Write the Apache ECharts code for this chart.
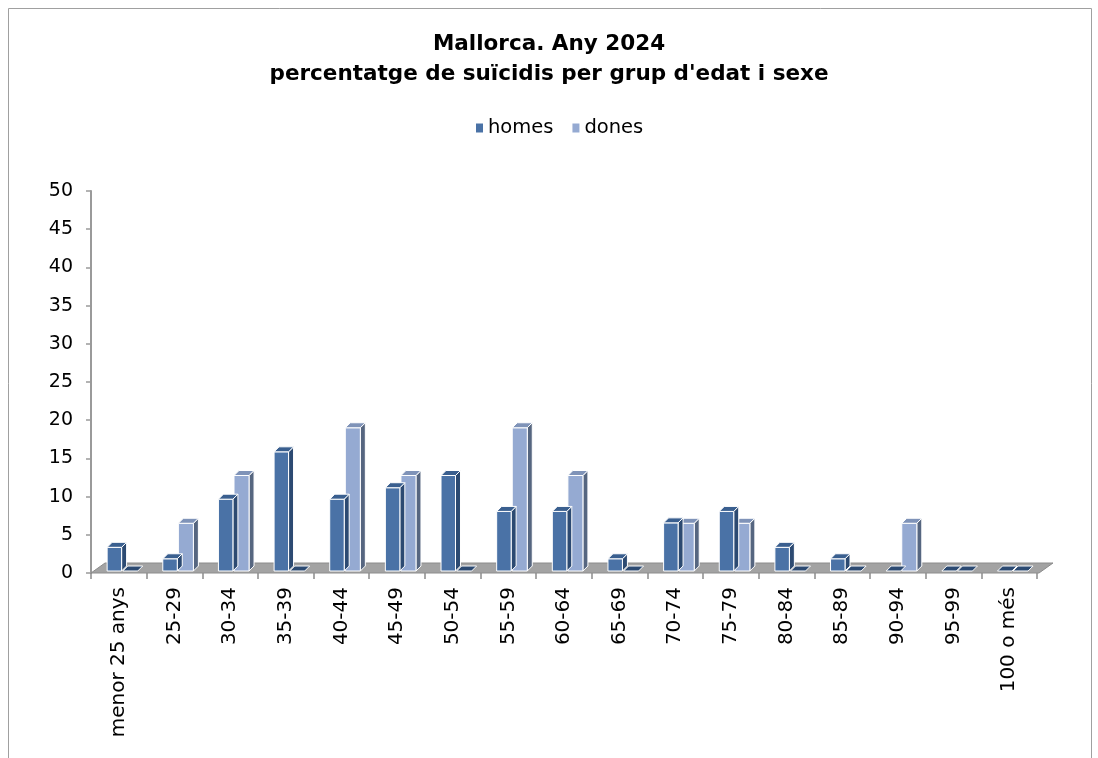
<!DOCTYPE html>
<html>
<head>
<meta charset="utf-8">
<script src="https://cdn.jsdelivr.net/npm/echarts@6/dist/echarts.min.js"></script>
<style>html,body{margin:0;padding:0;background:#fff;}#c{width:1098px;height:758px;}</style>
</head>
<body>
<div id="c"></div>
<script>
var categories = ['menor 25 anys','25-29','30-34','35-39','40-44','45-49','50-54','55-59','60-64','65-69','70-74','75-79','80-84','85-89','90-94','95-99','100 o més'];
var homes = [3.1, 1.6, 9.4, 15.6, 9.4, 10.9, 12.5, 7.8, 7.8, 1.6, 6.3, 7.8, 3.1, 1.6, 0, 0, 0];
var dones = [0, 6.25, 12.5, 0, 18.75, 12.5, 0, 18.75, 12.5, 0, 6.25, 6.25, 0, 0, 6.25, 0, 0];
var yTicks = [0, 5, 10, 15, 20, 25, 30, 35, 40, 45, 50];

var FONT = 'DejaVu Sans';

function bar3D(front, cap, side, zeroCap, offA, offB) {
  return function (params, api) {
    var idx = api.value(0), v = api.value(1);
    var base = api.coord([idx, 0]);
    var top = api.coord([idx, v]);
    var w = api.size([1, 0])[0];
    var x0 = base[0] + offA * w, x1 = base[0] + offB * w;
    var yb = base[1] - 2, yt = top[1] - 2;
    var dx = 5, dy = 5;
    var st = { stroke: '#ffffff', lineWidth: 1 };
    var children = [];
    var isZero = (yb - yt) <= 0.5;
    if (!isZero) {
      children.push({ type: 'polygon', shape: { points: [[x1, yt], [x1 + dx, yt - dy], [x1 + dx, yb - dy], [x1, yb]] }, style: Object.assign({ fill: side }, st) });
      children.push({ type: 'rect', shape: { x: x0, y: yt, width: x1 - x0, height: yb - yt }, style: Object.assign({ fill: front }, st) });
    }
    children.push({ type: 'polygon', shape: { points: [[x0, yt], [x0 + dx, yt - dy], [x1 + dx, yt - dy], [x1, yt]] }, style: Object.assign({ fill: isZero ? zeroCap : cap }, st) });
    return { type: 'group', children: children };
  };
}

function floorItem(params, api) {
  var cs = params.coordSys;
  var yF = cs.y + cs.height;
  return {
    type: 'polygon',
    shape: { points: [[cs.x, yF], [cs.x + 14, yF - 10], [cs.x + cs.width + 16, yF - 10], [cs.x + cs.width + 2, yF]] },
    style: { fill: '#a3a3a3', stroke: '#8c8c8c', lineWidth: 1 }
  };
}

var chart = echarts.init(document.getElementById('c'));
chart.setOption({
  animation: false,
  backgroundColor: '#ffffff',
  graphic: [{
    type: 'rect', shape: { x: 8.5, y: 8.5, width: 1083, height: 800 },
    style: { fill: 'none', stroke: '#a0a0a0', lineWidth: 1 }, silent: true, z: -10
  }],
  title: {
    text: 'Mallorca. Any 2024\npercentatge de suïcidis per grup d\'edat i sexe',
    left: 'center', top: 24,
    textStyle: { fontFamily: FONT, fontWeight: 'bold', fontSize: 21.5, lineHeight: 30, color: '#000' }
  },
  legend: {
    top: 113, left: 471,
    itemWidth: 7, itemHeight: 9, itemGap: 19,
    icon: 'rect',
    textStyle: { fontFamily: FONT, fontSize: 19.5, color: '#000', padding: [0, 0, 0, 0] },
    data: ['homes', 'dones']
  },
  grid: { left: 91, right: 61, top: 191, bottom: 185 },
  xAxis: {
    type: 'category', data: categories,
    axisLine: { show: false },
    axisTick: { show: true, length: 6, lineStyle: { color: '#8c8c8c', width: 1.5 } },
    axisLabel: { rotate: 90, margin: 14, fontFamily: FONT, fontSize: 20, color: '#000', interval: 0 }
  },
  yAxis: {
    type: 'value', min: yTicks[0], max: yTicks[yTicks.length - 1], interval: 5,
    axisLine: { show: true, lineStyle: { color: '#9a9a9a', width: 2 } },
    axisTick: { show: true, length: 5, lineStyle: { color: '#9a9a9a', width: 1.5 } },
    splitLine: { show: false },
    axisLabel: { margin: 18, fontFamily: FONT, fontSize: 19, color: '#000' }
  },
  series: [
    { name: 'floor', type: 'custom', data: [[0, 0]], renderItem: floorItem, z: 1, silent: true, legendHoverLink: false },
    { name: 'homes', type: 'custom', itemStyle: { color: '#4a72a6' },
      data: homes.map(function (v, i) { return [i, v]; }),
      encode: { x: 0, y: 1 },
      renderItem: bar3D('#4a72a6', '#3a5f8f', '#2c4a72', '#2c4a72', -0.21, 0.05), z: 3 },
    { name: 'dones', type: 'custom', itemStyle: { color: '#95aad2' },
      data: dones.map(function (v, i) { return [i, v]; }),
      encode: { x: 0, y: 1 },
      renderItem: bar3D('#95aad2', '#7f93b8', '#566680', '#2c4a72', 0.07, 0.34), z: 2 }
  ]
});
</script>
</body>
</html>
